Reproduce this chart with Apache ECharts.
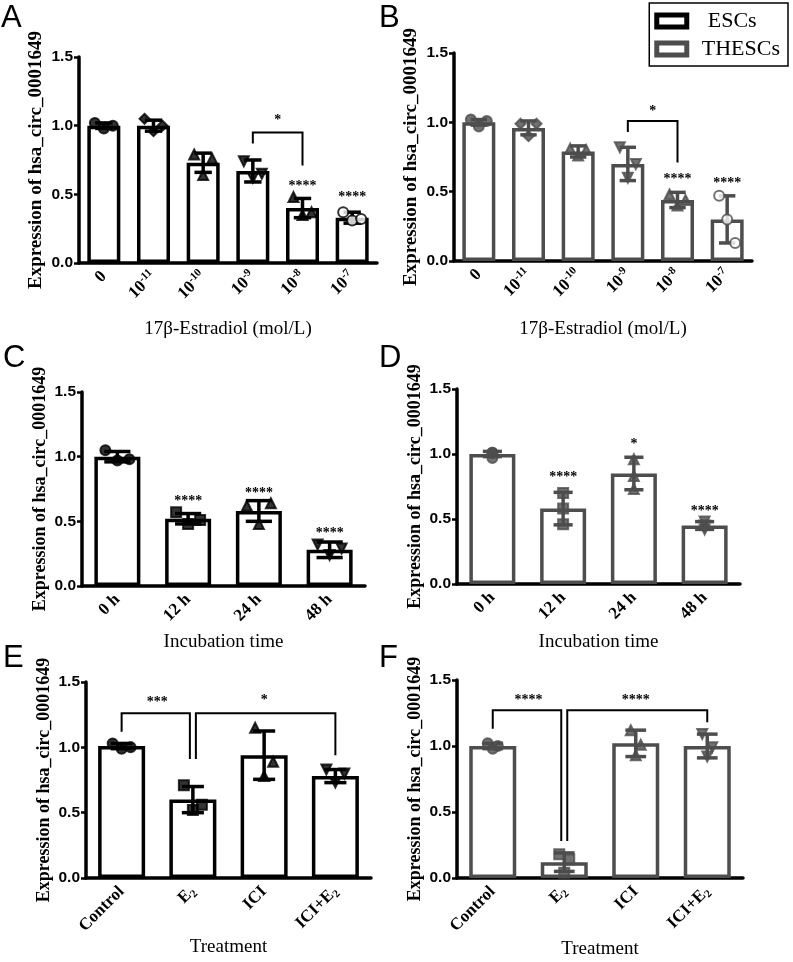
<!DOCTYPE html>
<html><head><meta charset="utf-8">
<script src="https://cdn.jsdelivr.net/npm/echarts@6/dist/echarts.min.js"></script>
<style>html,body{margin:0;padding:0;background:#fff}#c{width:793px;height:962px}</style>
</head><body><div id="c"></div>
<script>
// ---------------- DATA ----------------
const doseCats = ['0', '10^-11', '10^-10', '10^-9', '10^-8', '10^-7'];
const timeCats = ['0 h', '12 h', '24 h', '48 h'];
const treatCats = ['Control', 'E_2', 'ICI', 'ICI+E_2'];

// Panel A (ESCs, dose)
const aMean = [1.00, 1.00, 0.73, 0.67, 0.40, 0.33];
const aSD   = [0.02, 0.04, 0.07, 0.08, 0.07, 0.04];
const aPts  = [[1.02, 0.98, 1.00], [1.05, 0.96, 1.00], [0.79, 0.64, 0.76], [0.74, 0.62, 0.65], [0.48, 0.35, 0.37], [0.37, 0.31, 0.32]];
const aBrackets = [[3, 4, 0.95, 0.87, 0.71]];
const aStars = [[3, 4, 1.06], [4, 4, 0.58], [5, 5, 0.50]];
const aStarText = ['*', '****', '****'];

// Panel B (THESCs, dose)
const bMean = [1.00, 0.96, 0.79, 0.70, 0.44, 0.30];
const bSD   = [0.02, 0.05, 0.04, 0.12, 0.055, 0.17];
const bPts  = [[1.02, 0.97, 1.01], [0.99, 0.90, 0.99], [0.81, 0.76, 0.80], [0.82, 0.60, 0.70], [0.48, 0.40, 0.44], [0.47, 0.30, 0.13]];
const bBrackets = [[3, 4, 1.01, 0.93, 0.71]];
const bStars = [[3, 4, 1.10], [4, 4, 0.61], [5, 5, 0.58]];
const bStarText = ['*', '****', '****'];

// Panel C (ESCs, time)
const cMean = [1.00, 0.52, 0.58, 0.28];
const cSD   = [0.04, 0.04, 0.08, 0.06];
const cPts  = [[1.05, 0.97, 0.98], [0.57, 0.48, 0.51], [0.62, 0.48, 0.64], [0.32, 0.24, 0.29]];
const cStars = [[1, 1, 0.68], [2, 2, 0.74], [3, 3, 0.43]];
const cStarText = ['****', '****', '****'];

// Panel D (THESCs, time)
const dMean = [1.00, 0.58, 0.85, 0.45];
const dSD   = [0.02, 0.125, 0.125, 0.03];
const dPts  = [[1.01, 0.97, 1.01], [0.70, 0.58, 0.46], [0.96, 0.83, 0.73], [0.48, 0.42, 0.45]];
const dStars = [[1, 1, 0.84], [2, 2, 1.10], [3, 3, 0.58]];
const dStarText = ['****', '*', '****'];

// Panel E (ESCs, treatment)
const eMean = [1.01, 0.60, 0.94, 0.78];
const eSD   = [0.02, 0.10, 0.185, 0.05];
const ePts  = [[1.03, 0.99, 1.00], [0.71, 0.52, 0.56], [1.15, 0.78, 0.89], [0.83, 0.73, 0.80]];
const eBrackets = [[0, 1, 1.26, 1.12, 0.91], [1, 3, 1.26, 0.91, 0.94]];
const eStars = [[0, 1, 1.37], [1, 3, 1.385]];
const eStarText = ['***', '*'];

// Panel F (THESCs, treatment)
const fMean = [1.00, 0.12, 1.02, 1.00];
const fSD   = [0.02, 0.07, 0.10, 0.09];
const fPts  = [[1.02, 0.98, 1.00], [0.18, 0.04, 0.14], [1.12, 0.93, 1.01], [1.09, 0.92, 0.99]];
const fBrackets = [[0, 1, 1.27, 1.13, 0.28], [1, 3, 1.27, 0.28, 1.18]];
const fStars = [[0, 1, 1.37], [1, 3, 1.37]];
const fStarText = ['****', '****'];

const yTicksMin = 0, yTicksMax = 1.5, yTickStep = 0.5;
const yTitle = 'Expression of hsa_circ_0001649';
const seriesNames = ['ESCs', 'THESCs'];

// ---------------- STYLE / LAYOUT ----------------
const BLACK = '#000', GRAY = '#4d4d4d';
const doseShapes = [['circle', 0], ['diamond', 0], ['triangle', 0], ['triangle', 180], ['triangle', 0], ['emptyCircle', 0]];
const fourShapes = [['circle', 0], ['rect', 0], ['triangle', 0], ['triangle', 180]];
const JIT = [-1, 0, 1];

const panels = [
  {L: 'A', lx: 1, ly: 3, cats: doseCats, mean: aMean, sd: aSD, pts: aPts, br: aBrackets, st: aStars, stt: aStarText, col: BLACK, name: seriesNames[0], shapes: doseShapes,
   grid: {left: 79, top: 57, width: 298, height: 206}, bw: 33, cap: 0.35, jit: 9, xName: '17β-Estradiol (mol/L)', xGap: 57, yFs: 19},
  {L: 'B', lx: 379, ly: 3, cats: doseCats, mean: bMean, sd: bSD, pts: bPts, br: bBrackets, st: bStars, stt: bStarText, col: GRAY, name: seriesNames[1], shapes: doseShapes,
   grid: {left: 454, top: 53, width: 298, height: 208}, bw: 33, cap: 0.33, jit: 8, xName: '17β-Estradiol (mol/L)', xGap: 59, yFs: 19},
  {L: 'C', lx: 3, ly: 343, cats: timeCats, mean: cMean, sd: cSD, pts: cPts, br: [], st: cStars, stt: cStarText, col: BLACK, name: seriesNames[0], shapes: fourShapes,
   grid: {left: 82, top: 392, width: 283, height: 194}, bw: 46, cap: 0.37, jit: 12, xName: 'Incubation time', xGap: 47, yFs: 18},
  {L: 'D', lx: 379, ly: 343, cats: timeCats, mean: dMean, sd: dSD, pts: dPts, br: [], st: dStars, stt: dStarText, col: GRAY, name: seriesNames[1], shapes: fourShapes,
   grid: {left: 457, top: 389, width: 283, height: 195}, bw: 46, cap: 0.27, jit: 0, xName: 'Incubation time', xGap: 49, yFs: 18},
  {L: 'E', lx: 3, ly: 643, cats: treatCats, mean: eMean, sd: eSD, pts: ePts, br: eBrackets, st: eStars, stt: eStarText, col: BLACK, name: seriesNames[0], shapes: fourShapes,
   grid: {left: 86, top: 682, width: 285, height: 196}, bw: 47, cap: 0.31, jit: 9, xName: 'Treatment', xGap: 60, yFs: 18},
  {L: 'F', lx: 379, ly: 643, cats: treatCats, mean: fMean, sd: fSD, pts: fPts, br: fBrackets, st: fStars, stt: fStarText, col: GRAY, name: seriesNames[1], shapes: fourShapes,
   grid: {left: 457, top: 680, width: 286, height: 198}, bw: 47, cap: 0.29, jit: 5, xName: 'Treatment', xGap: 62, yFs: 18}
];

const SERIF = 'Liberation Serif', SANS = 'Liberation Sans';

function catLabel(v) {
  if (v.indexOf('^') >= 0) { const p = v.split('^'); return '{b|' + p[0] + '}{sup|' + p[1] + '}'; }
  if (v.indexOf('_') >= 0) { const p = v.split('_'); return '{b|' + p[0] + '}{sub|' + p[1] + '}'; }
  return '{b|' + v + '}';
}

const option = {
  animation: false,
  backgroundColor: '#fff',
  title: [], grid: [], xAxis: [], yAxis: [], series: [],
  legend: {
    orient: 'vertical', right: 5, top: 3, icon: 'rect', itemWidth: 30, itemHeight: 12, itemGap: 6,
    padding: [7, 8, 6, 5], borderColor: '#000', borderWidth: 1.5, selectedMode: false,
    textStyle: {fontFamily: SERIF, fontSize: 22, color: '#000'},
    data: [
      {name: seriesNames[0], itemStyle: {color: '#fff', borderColor: BLACK, borderWidth: 5}, textStyle: {padding: [0, 0, 0, 16]}},
      {name: seriesNames[1], itemStyle: {color: '#fff', borderColor: GRAY, borderWidth: 5}, textStyle: {padding: [0, 0, 0, 10]}}
    ]
  }
};

panels.forEach((P, gi) => {
  option.title.push({text: P.L, left: P.lx, top: P.ly, padding: 0,
    textStyle: {fontFamily: SANS, fontSize: 31, fontWeight: 'normal', color: '#000'}});
  option.grid.push(Object.assign({containLabel: false, outerBoundsMode: 'none'}, P.grid));
  option.xAxis.push({
    gridIndex: gi, type: 'category', data: P.cats,
    name: P.xName, nameLocation: 'middle', nameGap: P.xGap, nameMoveOverlap: false,
    nameTextStyle: {fontFamily: SERIF, fontSize: 19, color: '#000'},
    axisLine: {lineStyle: {color: '#000', width: 3.5}},
    axisTick: {alignWithLabel: true, length: 6, lineStyle: {color: '#000', width: 2.5}},
    axisLabel: {
      interval: 0, rotate: 45, margin: 11, color: '#000', formatter: catLabel,
      rich: {
        b: {fontFamily: SERIF, fontWeight: 'bold', fontSize: 17, color: '#000', lineHeight: 20},
        sup: {fontFamily: SERIF, fontWeight: 'bold', fontSize: 11, color: '#000', lineHeight: 20, verticalAlign: 'top', padding: [0, 0, 7, 0]},
        sub: {fontFamily: SERIF, fontWeight: 'bold', fontSize: 11, color: '#000', lineHeight: 20, verticalAlign: 'bottom'}
      }
    },
    splitLine: {show: false}
  });
  option.yAxis.push({
    gridIndex: gi, type: 'value', min: yTicksMin, max: yTicksMax, interval: yTickStep,
    name: yTitle, nameLocation: 'middle', nameGap: 33, nameRotate: 90, nameMoveOverlap: false,
    nameTextStyle: {fontFamily: SERIF, fontWeight: 'bold', fontSize: P.yFs, color: '#000'},
    axisLine: {show: true, lineStyle: {color: '#000', width: 3.5}},
    axisTick: {show: true, length: 5, lineStyle: {color: '#000', width: 2.5}},
    axisLabel: {margin: 6, formatter: v => v.toFixed(1), fontFamily: SANS, fontWeight: 'bold', fontSize: 15.5, color: '#000'},
    splitLine: {show: false}
  });
  // bars
  option.series.push({
    name: P.name, type: 'bar', xAxisIndex: gi, yAxisIndex: gi, data: P.mean, barWidth: P.bw, z: 2,
    itemStyle: {color: '#fff', borderColor: P.col, borderWidth: 3.5}
  });
  // error bars
  const col = P.col, capF = P.cap;
  option.series.push({
    type: 'custom', xAxisIndex: gi, yAxisIndex: gi, z: 4, encode: {x: 0, y: 1},
    data: P.mean.map((m, i) => [i, m, P.sd[i]]),
    renderItem: function (params, api) {
      const i = api.value(0), m = api.value(1), s = api.value(2);
      const t = api.coord([i, m + s]), b = api.coord([i, m - s]);
      const hw = api.size([1, 0])[0] * capF / 2;
      const st = {stroke: col, lineWidth: 3.5};
      return {type: 'group', children: [
        {type: 'line', shape: {x1: t[0], y1: t[1], x2: b[0], y2: b[1]}, style: st},
        {type: 'line', shape: {x1: t[0] - hw, y1: t[1], x2: t[0] + hw, y2: t[1]}, style: st},
        {type: 'line', shape: {x1: b[0] - hw, y1: b[1], x2: b[0] + hw, y2: b[1]}, style: st}
      ]};
    }
  });
  // data points
  const pdata = [];
  P.pts.forEach((arr, i) => {
    arr.forEach((v, j) => {
      pdata.push({value: [i, v], symbol: P.shapes[i][0], symbolRotate: P.shapes[i][1], symbolOffset: [JIT[j] * P.jit, 0]});
    });
  });
  option.series.push({
    type: 'scatter', xAxisIndex: gi, yAxisIndex: gi, z: 5, symbolSize: 10, data: pdata,
    itemStyle: {color: P.col, borderColor: P.col, borderWidth: 2}
  });
  // brackets
  if (P.br.length) {
    const brs = P.br;
    option.series.push({
      type: 'custom', xAxisIndex: gi, yAxisIndex: gi, z: 6, encode: {x: 0, y: 2},
      data: brs,
      renderItem: function (params, api) {
        const a = api.value(0), b = api.value(1), yt = api.value(2), yl = api.value(3), yr = api.value(4);
        let sa = 0, sb = 0;
        brs.forEach(o => { if (o !== brs[params.dataIndex]) { if (o[1] === a) sa = 3; if (o[0] === b) sb = -3; } });
        const pL = api.coord([a, yl]), pR = api.coord([b, yr]), pT = api.coord([a, yt]);
        return {type: 'polyline', shape: {points: [[pL[0] + sa, pL[1]], [pL[0] + sa, pT[1]], [pR[0] + sb, pT[1]], [pR[0] + sb, pR[1]]]},
          style: {stroke: '#000', lineWidth: 2, fill: null}};
      }
    });
  }
  // significance stars
  const stt = P.stt;
  option.series.push({
    type: 'custom', xAxisIndex: gi, yAxisIndex: gi, z: 7, encode: {x: 0, y: 2},
    data: P.st,
    renderItem: function (params, api) {
      const a = api.coord([api.value(0), api.value(2)]), b = api.coord([api.value(1), api.value(2)]);
      return {type: 'text', x: (a[0] + b[0]) / 2, y: a[1] + 3,
        style: {text: stt[params.dataIndex], fill: '#000', font: 'bold 14px "Liberation Serif"', align: 'center', verticalAlign: 'middle'}};
    }
  });
});

const chart = echarts.init(document.getElementById('c'), null, {renderer: 'canvas'});
chart.setOption(option);
</script></body></html>
